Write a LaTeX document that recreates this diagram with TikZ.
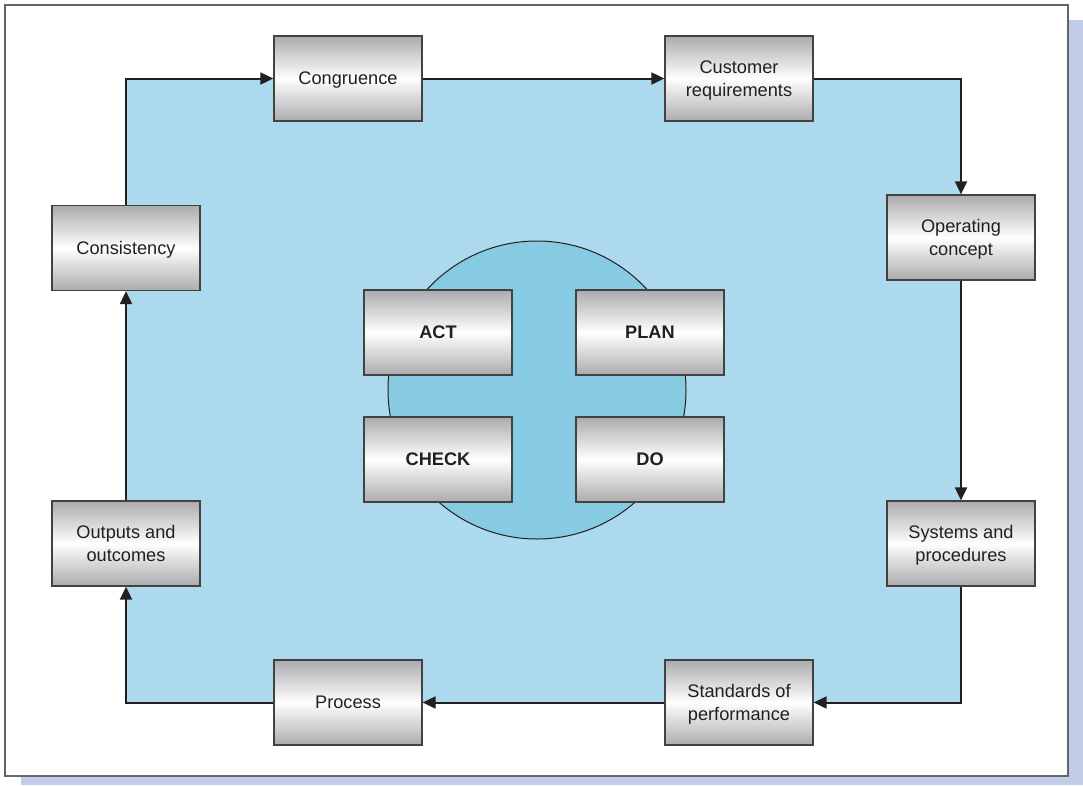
\documentclass[tikz,border=0pt]{standalone}
\usepackage{fontspec}
\setmainfont{Liberation Sans}
\usetikzlibrary{arrows.meta,positioning,backgrounds,calc}
\usepackage{xcolor}
\definecolor{loopblue}{HTML}{ADD9EE}
\definecolor{coreblue}{HTML}{87CBE3}
\definecolor{shadowblue}{HTML}{C1CCE8}
\definecolor{inkdark}{HTML}{231F20}
\definecolor{boxgray}{HTML}{ABABAF}

\tikzset{
  stagebox/.style={draw=inkdark!85, line width=1.3pt, rectangle, minimum width=148pt, minimum height=85pt,
    top color=boxgray, bottom color=boxgray, middle color=white, align=center, text=inkdark,
    text depth=-5pt, font=\fontsize{18.2}{23}\selectfont},
  corebox/.style={stagebox, font=\fontsize{18.2}{23}\selectfont\bfseries},
  flow/.style={draw=inkdark, line width=2pt, -{Triangle[length=13pt,width=12pt]}}
}

\begin{document}
\begin{tikzpicture}[x=1pt,y=-1pt]
\useasboundingbox (0,0) rectangle (1083,785);

% outer loop
\node[stagebox] (cong) at (348,78.5) {Congruence};
\node[stagebox] (cust) at (739,78.5) {Customer\\requirements};
\node[stagebox] (oper) at (961,237.5) {Operating\\concept};
\node[stagebox] (sys) at (961,543.5) {Systems and\\procedures};
\node[stagebox] (stan) at (739,702.5) {Standards of\\performance};
\node[stagebox] (proc) at (348,702.5) {Process};
\node[stagebox] (outp) at (126,543.5) {Outputs and\\outcomes};
\node[stagebox] (cons) at (126,248) {Consistency};

% PDCA core
\node[corebox] (act) at (438,332.5) {ACT};
\node[corebox] (plan) at (650,332.5) {PLAN};
\node[corebox] (check) at (438,459.5) {CHECK};
\node[corebox] (do) at (650,459.5) {DO};

\begin{scope}[on background layer]
% frame and shadow
\fill[shadowblue] (21,20) rectangle (1083,785);
\draw[fill=white, draw=black!60, line width=1.5pt] (5,5) rectangle (1068,776);
\fill[loopblue] (cons.north |- cong.west) rectangle (oper.north |- stan.east);
\draw[fill=coreblue, draw=inkdark, line width=1pt] (537,390) circle (149);
\end{scope}

\draw[flow] (cons.north) |- (cong.west);
\draw[flow] (cong) -- (cust);
\draw[flow] (cust.east) -| (oper.north);
\draw[flow] (oper) -- (sys);
\draw[flow] (sys.south) |- (stan.east);
\draw[flow] (stan) -- (proc);
\draw[flow] (proc.west) -| (outp.south);
\draw[flow] (outp) -- (cons);
\end{tikzpicture}
\end{document}
